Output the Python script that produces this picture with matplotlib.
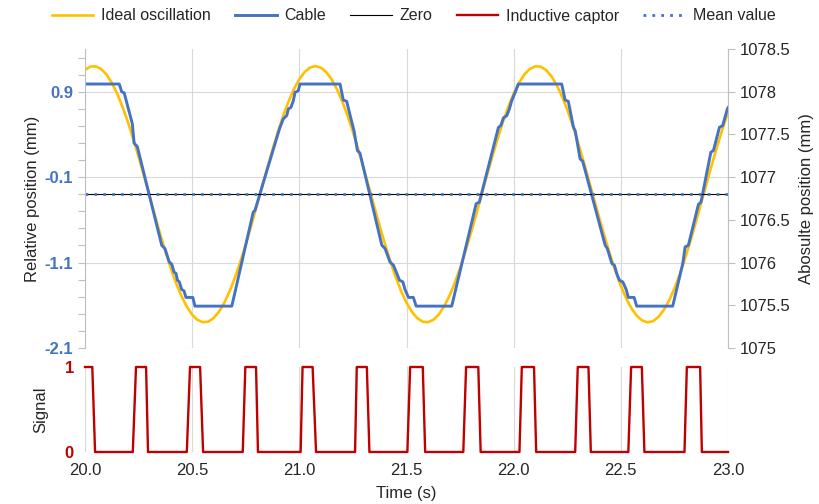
import matplotlib
matplotlib.use("Agg")
import matplotlib.pyplot as plt
import numpy as np
from matplotlib.ticker import FixedLocator

plt.rcParams['font.family'] = ['Liberation Sans', 'DejaVu Sans']

# ideal oscillation, sampled every 0.025 s
ideal_t = np.linspace(20.0, 23.0, 121)
ideal_v = [1.156, 1.194, 1.197, 1.166, 1.102, 1.005, 0.878, 0.724, 0.547, 0.349,
           0.137, -0.085, -0.311, -0.538, -0.759, -0.970, -1.165, -1.341, -1.492, -1.616,
           -1.710, -1.771, -1.798, -1.792, -1.750, -1.676, -1.570, -1.435, -1.273, -1.089,
           -0.887, -0.672, -0.448, -0.220, 0.005, 0.224, 0.430, 0.621, 0.788, 0.932,
           1.047, 1.131, 1.183, 1.200, 1.183, 1.131, 1.047, 0.932, 0.788, 0.621,
           0.430, 0.224, 0.005, -0.220, -0.448, -0.672, -0.887, -1.089, -1.273, -1.435,
           -1.570, -1.676, -1.750, -1.792, -1.798, -1.771, -1.710, -1.616, -1.492, -1.341,
           -1.165, -0.970, -0.759, -0.538, -0.311, -0.085, 0.137, 0.349, 0.547, 0.724,
           0.878, 1.005, 1.102, 1.166, 1.197, 1.194, 1.156, 1.085, 0.982, 0.849,
           0.691, 0.508, 0.308, 0.094, -0.130, -0.357, -0.583, -0.802, -1.010, -1.202,
           -1.373, -1.519, -1.637, -1.724, -1.779, -1.800, -1.786, -1.738, -1.657, -1.545,
           -1.404, -1.238, -1.050, -0.845, -0.627, -0.402, -0.175, 0.050, 0.266, 0.469,
           0.656]

# cable (relative position, mm)
cable_t = [20.0, 20.160, 20.171, 20.183, 20.221, 20.229, 20.244, 20.358, 20.373, 20.393,
           20.405, 20.415, 20.425, 20.431, 20.440, 20.451, 20.462, 20.471, 20.503, 20.513,
           20.685, 20.785, 20.793, 20.908, 20.925, 20.941, 20.949, 20.961, 20.972, 20.980,
           20.995, 21.003, 21.190, 21.205, 21.221, 21.245, 21.255, 21.271, 21.283, 21.385,
           21.400, 21.423, 21.439, 21.455, 21.467, 21.483, 21.493, 21.509, 21.532, 21.545,
           21.711, 21.825, 21.840, 21.929, 21.940, 21.952, 21.968, 21.980, 21.991, 22.007,
           22.022, 22.224, 22.240, 22.255, 22.279, 22.287, 22.310, 22.322, 22.427, 22.437,
           22.458, 22.470, 22.481, 22.493, 22.509, 22.525, 22.535, 22.562, 22.574, 22.742,
           22.789, 22.800, 22.815, 22.862, 22.874, 22.920, 22.932, 22.960, 22.975, 22.997,
           23.0]
cable_v = [0.99, 0.99, 0.90, 0.885, 0.523, 0.297, 0.258, -0.898, -0.936, -1.093,
           -1.119, -1.209, -1.228, -1.306, -1.326, -1.415, -1.431, -1.508, -1.508, -1.61,
           -1.61, -0.509, -0.489, 0.47, 0.581, 0.620, 0.698, 0.717, 0.795, 0.892,
           0.912, 0.99, 0.99, 0.803, 0.787, 0.542, 0.445, 0.211, 0.180, -0.898,
           -0.936, -1.093, -1.131, -1.228, -1.306, -1.326, -1.415, -1.508, -1.508, -1.61,
           -1.61, -0.411, -0.392, 0.483, 0.503, 0.593, 0.620, 0.698, 0.795, 0.892,
           0.99, 0.99, 0.803, 0.787, 0.483, 0.445, 0.114, 0.086, -0.898, -0.936,
           -1.111, -1.131, -1.228, -1.306, -1.326, -1.415, -1.508, -1.508, -1.61, -1.61,
           -1.111, -0.917, -0.898, -0.419, -0.392, 0.192, 0.211, 0.483, 0.503, 0.698,
           0.713]

zero_level = -0.3
mean_level = -0.3

# inductive captor signal
sig_t = [20.0, 20.034, 20.047,
         20.223, 20.238, 20.285, 20.294,
         20.475, 20.490, 20.537, 20.551,
         20.736, 20.748, 20.798, 20.807,
         21.006, 21.015, 21.062, 21.078,
         21.260, 21.268, 21.315, 21.327,
         21.504, 21.517, 21.576, 21.587,
         21.765, 21.778, 21.835, 21.846,
         22.027, 22.038, 22.095, 22.105,
         22.287, 22.299, 22.349, 22.360,
         22.535, 22.548, 22.598, 22.610,
         22.797, 22.808, 22.870, 22.878,
         23.0]
sig_v = [1, 1, 0,
         0, 1, 1, 0,
         0, 1, 1, 0,
         0, 1, 1, 0,
         0, 1, 1, 0,
         0, 1, 1, 0,
         0, 1, 1, 0,
         0, 1, 1, 0,
         0, 1, 1, 0,
         0, 1, 1, 0,
         0, 1, 1, 0,
         0, 1, 1, 0,
         0]

left_ticks = [-2.1, -1.1, -0.1, 0.9]
right_ticks = [1075, 1075.5, 1076, 1076.5, 1077, 1077.5, 1078, 1078.5]
x_ticks = [20.0, 20.5, 21.0, 21.5, 22.0, 22.5, 23.0]

YELLOW = '#FFC000'
BLUE = '#4472C4'
RED = '#C00000'
GRID = '#D9D9D9'
TXT = '#262626'

fig = plt.figure(figsize=(8.19, 5.04), dpi=100)
ax = fig.add_axes([85/819, 1-348/504, 643/819, 299/504])
ax2 = ax.twinx()
axb = fig.add_axes([85/819, 1-452/504, 643/819, 85/504], sharex=ax)

l1, = ax.plot(ideal_t, ideal_v, color=YELLOW, lw=1.9, label='Ideal oscillation')
l2, = ax.plot(cable_t, cable_v, color=BLUE, lw=2.1, label='Cable')
l3 = ax.axhline(zero_level, color='black', lw=0.8, label='Zero')
l5, = ax.plot([20.0, 23.0], [mean_level, mean_level], color=BLUE, lw=2.0,
              ls=(0, (1, 2.2)), label='Mean value')
l4, = axb.plot(sig_t, sig_v, color=RED, lw=1.7, clip_on=False, label='Inductive captor')

ax.set_xlim(20.0, 23.0)
ax.set_ylim(-2.1, 1.4)
ax2.set_ylim(1075, 1078.5)

ax.yaxis.set_major_locator(FixedLocator(left_ticks))
ax.yaxis.set_minor_locator(FixedLocator(np.round(np.arange(-2.1, 1.41, 0.2), 2)))
ax.set_yticklabels(['-2.1', '-1.1', '-0.1', '0.9'])
ax.tick_params(axis='y', which='both', color='#BFBFBF', length=5, width=0.8,
               labelcolor=BLUE, labelsize=12)
for t in ax.get_yticklabels():
    t.set_fontweight('bold')
ax.tick_params(axis='x', which='both', length=0, labelbottom=False)
ax.grid(True, axis='both', which='major', color=GRID, lw=0.8)
ax.set_axisbelow(True)
for s in ['top', 'right', 'bottom']:
    ax.spines[s].set_visible(False)
ax.spines['left'].set_color('#BFBFBF')
ax.set_ylabel('Relative position (mm)', fontsize=12, color=TXT, labelpad=3)

ax2.set_yticks(right_ticks)
ax2.set_yticklabels(['1075', '1075.5', '1076', '1076.5', '1077', '1077.5', '1078', '1078.5'])
ax2.tick_params(axis='y', color='#BFBFBF', length=5, width=0.8, labelcolor=TXT, labelsize=12)
for s in ['top', 'left', 'bottom']:
    ax2.spines[s].set_visible(False)
ax2.spines['right'].set_color('#BFBFBF')
ax2.set_ylabel('Abosulte position (mm)', fontsize=12, color=TXT, labelpad=6)

axb.set_ylim(0, 1)
axb.set_yticks([0, 1])
axb.set_yticklabels(['0', '1'])
axb.tick_params(axis='y', length=0, labelcolor=RED, labelsize=12, pad=8)
for t in axb.get_yticklabels():
    t.set_fontweight('bold')
axb.set_xticks(x_ticks)
axb.set_xticklabels(['20.0', '20.5', '21.0', '21.5', '22.0', '22.5', '23.0'])
axb.tick_params(axis='x', length=0, labelcolor=TXT, labelsize=12, pad=8)
axb.grid(True, axis='x', color=GRID, lw=0.8)
axb.axhline(0, color=GRID, lw=0.8, zorder=0)
for s in axb.spines.values():
    s.set_visible(False)
axb.set_ylabel('Signal', fontsize=12, color=TXT, labelpad=12)
axb.set_xlabel('Time (s)', fontsize=12, color=TXT, labelpad=6)

fig.legend(handles=[l1, l2, l3, l4, l5], loc='center', bbox_to_anchor=(0.505, 1-16/504),
           ncol=5, frameon=False, fontsize=11.5, handlelength=2.6, columnspacing=1.5,
           handletextpad=0.5, labelcolor=TXT)

fig.savefig('out.png', dpi=100)
